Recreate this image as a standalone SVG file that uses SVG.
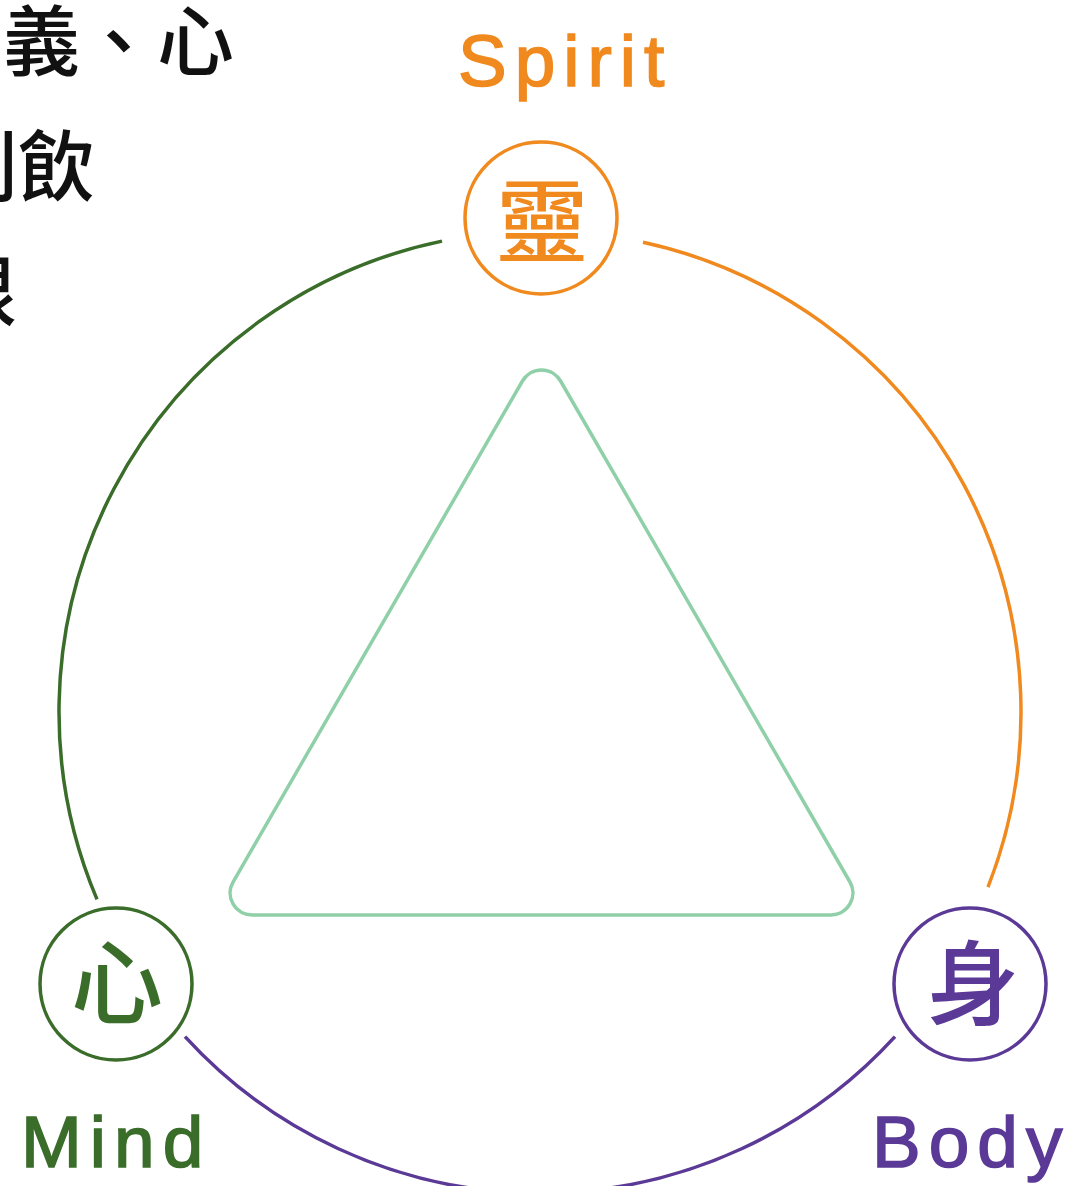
<svg xmlns="http://www.w3.org/2000/svg" width="1067" height="1186" viewBox="0 0 1067 1186">
<style>
.bg{fill:#ffffff}
.arc{fill:none;stroke-width:3.5}
.ring{fill:#ffffff;stroke-width:3.5}
.cjk{font-family:"Noto Sans CJK TC","Noto Sans CJK SC",sans-serif;font-weight:500;font-size:92px;text-anchor:middle}
.lbl{font-family:"Liberation Sans",Arial,sans-serif;font-size:73px;letter-spacing:8px;stroke-width:1.6px}
.side{font-family:"Noto Sans CJK TC","Noto Sans CJK SC",sans-serif;font-weight:500;font-size:77px;fill:#111111}
</style>
<rect class="bg" x="0" y="0" width="1067" height="1186"/>
<g id="side-text">
<text class="side" x="-74" y="70">意義、心</text>
<text class="side" x="-59" y="195">則飲</text>
<text class="side" x="-60" y="320">限</text>
</g>
<g id="connectors">
<path class="arc" stroke="#3a6c2a" d="M 442 241.1 A 481 481 0 0 0 97 899.4"/>
<path class="arc" stroke="#f0891e" d="M 643 242.2 A 481 481 0 0 1 988 887.1"/>
<path class="arc" stroke="#5b3996" d="M 185 1036.6 A 481 481 0 0 0 895 1036.6"/>
</g>
<g id="triangle">
<path fill="none" stroke="#8fd0a9" stroke-width="3.5" d="M 522.45 381 A 22 22 0 0 1 560.55 381 L 849.95 882 A 22 22 0 0 1 830.9 915 L 252.1 915 A 22 22 0 0 1 233.05 882 Z"/>
</g>
<g id="node-spirit">
<circle class="ring" cx="541" cy="218" r="76" stroke="#f0891e"/>
<text class="cjk" x="542" y="256" fill="#f0891e">靈</text>
<text class="lbl" x="458" y="86" fill="#f0891e" stroke="#f0891e">Spirit</text>
</g>
<g id="node-mind">
<circle class="ring" cx="116" cy="984" r="76" stroke="#3a6c2a"/>
<text class="cjk" x="117" y="1017" fill="#3a6c2a">心</text>
<text class="lbl" x="21" y="1167" fill="#3a6c2a" stroke="#3a6c2a">Mind</text>
</g>
<g id="node-body">
<circle class="ring" cx="970" cy="984" r="76" stroke="#5b3996"/>
<text class="cjk" x="973" y="1018" fill="#5b3996">身</text>
<text class="lbl" x="872" y="1167" fill="#5b3996" stroke="#5b3996">Body</text>
</g>
</svg>
